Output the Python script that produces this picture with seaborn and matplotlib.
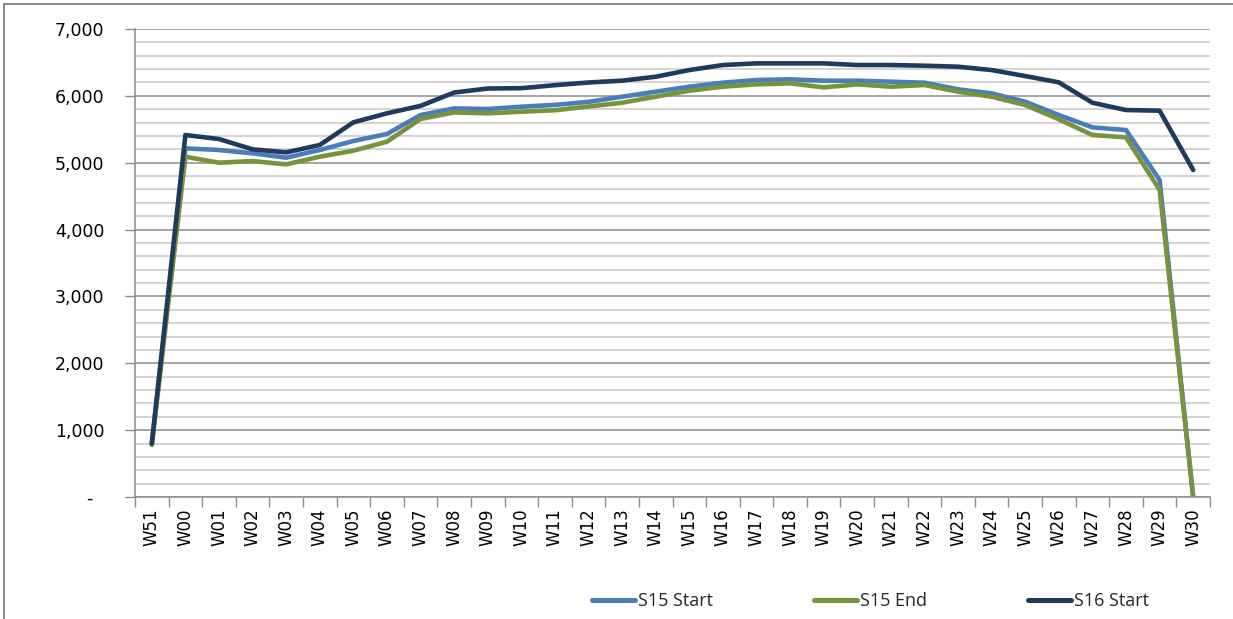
import matplotlib
matplotlib.use('Agg')
import matplotlib.pyplot as plt
from matplotlib.ticker import FuncFormatter, MultipleLocator
from matplotlib.patches import Rectangle
import seaborn as sns
import numpy as np
import pandas as pd

weeks = ['W51', 'W00', 'W01', 'W02', 'W03', 'W04', 'W05', 'W06', 'W07', 'W08',
         'W09', 'W10', 'W11', 'W12', 'W13', 'W14', 'W15', 'W16', 'W17', 'W18',
         'W19', 'W20', 'W21', 'W22', 'W23', 'W24', 'W25', 'W26', 'W27', 'W28',
         'W29', 'W30']

s15_start = [800, 5215, 5190, 5140, 5075, 5190, 5325, 5430, 5713, 5813,
             5803, 5838, 5865, 5910, 5987, 6062, 6137, 6197, 6237, 6247,
             6227, 6227, 6212, 6197, 6098, 6037, 5913, 5713, 5529, 5489,
             4741, 0]
s15_end = [780, 5090, 5000, 5025, 4975, 5090, 5180, 5314, 5654, 5753,
           5739, 5763, 5785, 5840, 5897, 5987, 6077, 6137, 6172, 6187,
           6127, 6172, 6137, 6162, 6062, 5987, 5863, 5649, 5414, 5380,
           4592, 0]
s16_start = [800, 5414, 5354, 5200, 5155, 5265, 5604, 5739, 5850, 6050,
             6110, 6115, 6160, 6200, 6227, 6286, 6386, 6461, 6486, 6486,
             6486, 6461, 6461, 6451, 6436, 6386, 6296, 6202, 5897, 5788,
             5778, 4891]

series = ['S15 Start', 'S15 End', 'S16 Start']
colors = {'S15 Start': '#4a7ebb', 'S15 End': '#77933c', 'S16 Start': '#1f3a5f'}

df = pd.DataFrame({
    'week': weeks * 3,
    'value': s15_start + s15_end + s16_start,
    'series': np.repeat(series, len(weeks)),
})

sns.set_style('white')
plt.rcParams['font.family'] = ['DejaVu Sans']

fig = plt.figure(figsize=(12.33, 6.19), dpi=100)
ax = fig.add_axes([135 / 1233, 1 - 497 / 619, (1210 - 135) / 1233, (497 - 29) / 619])

sns.lineplot(data=df, x='week', y='value', hue='series', palette=colors,
             linewidth=3.3, ax=ax, sort=False)

ax.set_xlim(-0.5, len(weeks) - 0.5)
ax.set_ylim(0, 7000)
ax.set_xlabel('')
ax.set_ylabel('')

# gridlines
ax.yaxis.set_major_locator(MultipleLocator(1000))
ax.yaxis.set_minor_locator(MultipleLocator(200))
ax.grid(which='major', axis='y', color='#8c8c8c', linewidth=1.1)
ax.grid(which='minor', axis='y', color='#c8c8c8', linewidth=1.1)
ax.grid(axis='x', visible=False)
ax.set_axisbelow(True)

ax.yaxis.set_major_formatter(FuncFormatter(lambda v, p: '-  ' if v == 0 else f'{v:,.0f}'))
ax.tick_params(axis='y', which='major', length=7, width=1, color='#8c8c8c',
               direction='out', left=True, pad=15, labelsize=12.5, labelcolor='black')
ax.tick_params(axis='y', which='minor', length=0)

ax.set_xticks(range(len(weeks)))
ax.set_xticklabels(weeks, rotation=90)
ax.set_xticks(np.arange(-0.5, len(weeks), 1), minor=True)
ax.tick_params(axis='x', which='major', length=0, pad=8, labelsize=12, labelcolor='black')
ax.tick_params(axis='x', which='minor', length=7, width=1, color='#8c8c8c',
               direction='out', bottom=True)

for side in ['top', 'right']:
    ax.spines[side].set_visible(False)
for side in ['left', 'bottom']:
    ax.spines[side].set_color('#8c8c8c')
    ax.spines[side].set_linewidth(1.1)

leg = ax.legend(loc='center', bbox_to_anchor=(0.706, 0.029),
                bbox_transform=fig.transFigure, ncol=3, frameon=False,
                fontsize=13, handlelength=2.4, handletextpad=0.15,
                columnspacing=5.6)
for line in leg.get_lines():
    line.set_linewidth(3.6)
    line.set_solid_capstyle('round')
for t in leg.get_texts():
    t.set_family('Open Sans')

# outer chart border
fig.patches.append(Rectangle((4 / 1233, -0.1), 1.2, 1 - 4 / 619 + 0.1,
                             transform=fig.transFigure, fill=False,
                             edgecolor='#8c8c8c', linewidth=1.5))

fig.savefig('out.png', dpi=100)
plt.close()
